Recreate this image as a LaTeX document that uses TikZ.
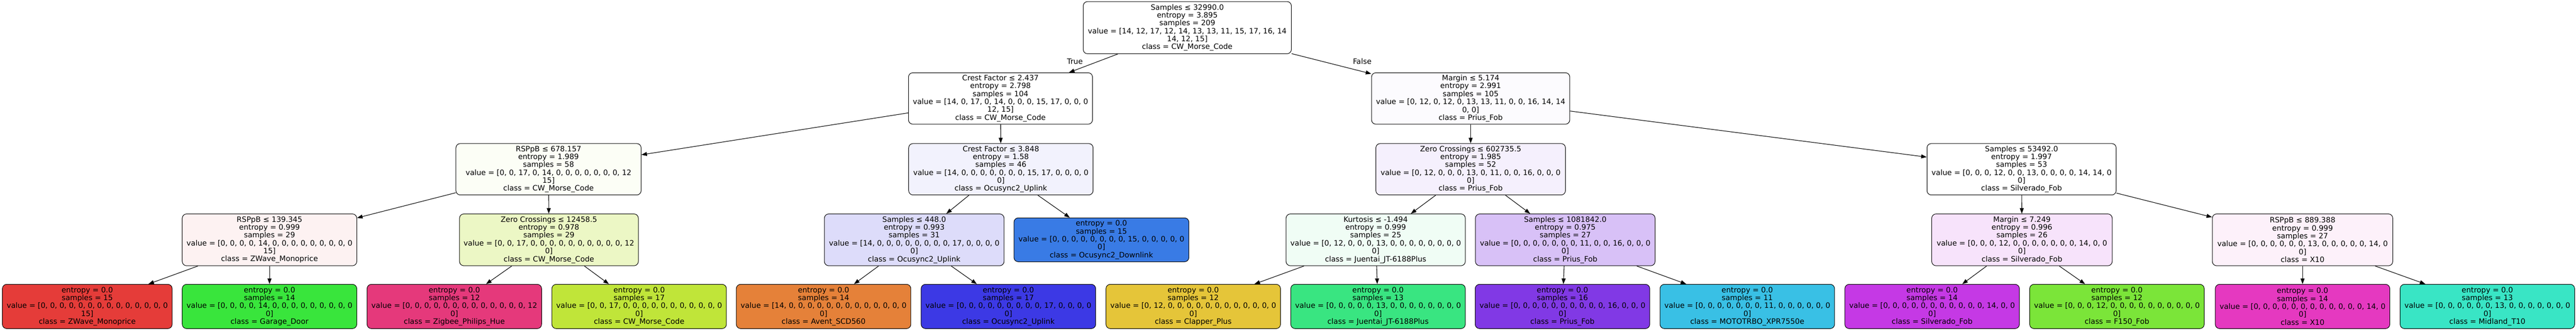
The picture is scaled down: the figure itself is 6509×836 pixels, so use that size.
\documentclass[tikz,border=0pt]{standalone}
\usepackage{fontspec}
\setmainfont{DejaVu Sans}
\usetikzlibrary{arrows.meta}
\newcommand\treefont{\fontsize{18.7}{20}\selectfont}
\definecolor{cMarginA}{HTML}{FCFBFE}
\definecolor{cRspA}{HTML}{FCFEF6}
\definecolor{cCrestB}{HTML}{F2F2FD}
\definecolor{cZeroA}{HTML}{F5F0FD}
\definecolor{cRspB}{HTML}{FDF2F2}
\definecolor{cZeroB}{HTML}{ECF7C5}
\definecolor{cSampB}{HTML}{DDDCFA}
\definecolor{cKurt}{HTML}{F0FDF5}
\definecolor{cSampC}{HTML}{D8C1F7}
\definecolor{cMarginB}{HTML}{F7E3FB}
\definecolor{cRspC}{HTML}{FDF1FA}
\definecolor{kAvent}{HTML}{E58139}
\definecolor{kClapper}{HTML}{E5C539}
\definecolor{kCW}{HTML}{C0E539}
\definecolor{kFord}{HTML}{7BE539}
\definecolor{kGarage}{HTML}{39E53C}
\definecolor{kJuentai}{HTML}{39E581}
\definecolor{kMidland}{HTML}{39E5C5}
\definecolor{kMoto}{HTML}{39C0E5}
\definecolor{kDown}{HTML}{397BE5}
\definecolor{kUp}{HTML}{3C39E5}
\definecolor{kPrius}{HTML}{8139E5}
\definecolor{kSilver}{HTML}{C539E5}
\definecolor{kXten}{HTML}{E539C0}
\definecolor{kZigbee}{HTML}{E5397B}
\definecolor{kZwave}{HTML}{E53C39}
\begin{document}
\begin{tikzpicture}[x=1pt,y=-1pt,
  box/.style={draw=black, line width=1.3pt, rounded corners=11pt, inner sep=0pt,
    align=center, font=\treefont, minimum height=130pt},
  leafbox/.style={box, minimum height=112pt, minimum width=441pt},
  conn/.style={draw=black, -{Triangle[length=14pt,width=10pt]}, line width=1.4pt},
  lbl/.style={font=\treefont}]
\useasboundingbox (0,0) rectangle (6509,836);
% level 0
\node[box, fill=white, minimum width=526pt, minimum height=132pt] (root) at (3000,70)
  {Samples ≤ 32990.0\\entropy = 3.895\\samples = 209\\value = [14, 12, 17, 12, 14, 13, 13, 11, 15, 17, 16, 14\\14, 12, 15]\\class = CW\_Morse\_Code};
% level 1
\node[box, fill=white, minimum width=465pt] (n1) at (2528,249)
  {Crest Factor ≤ 2.437\\entropy = 2.798\\samples = 104\\value = [14, 0, 17, 0, 14, 0, 0, 0, 15, 17, 0, 0, 0\\12, 15]\\class = CW\_Morse\_Code};
\node[box, fill=cMarginA, minimum width=501pt] (n2) at (3716,249)
  {Margin ≤ 5.174\\entropy = 2.991\\samples = 105\\value = [0, 12, 0, 12, 0, 13, 13, 11, 0, 0, 16, 14, 14\\0, 0]\\class = Prius\_Fob};
% level 2
\node[box, fill=cRspA, minimum width=468pt] (n3) at (1386,428)
  {RSPpB ≤ 678.157\\entropy = 1.989\\samples = 58\\value = [0, 0, 17, 0, 14, 0, 0, 0, 0, 0, 0, 0, 12\\15]\\class = CW\_Morse\_Code};
\node[box, fill=cCrestB, minimum width=466pt] (n4) at (2529,428)
  {Crest Factor ≤ 3.848\\entropy = 1.58\\samples = 46\\value = [14, 0, 0, 0, 0, 0, 0, 0, 15, 17, 0, 0, 0, 0\\0]\\class = Ocusync2\_Uplink};
\node[box, fill=cZeroA, minimum width=479pt] (n5) at (3716,428)
  {Zero Crossings ≤ 602735.5\\entropy = 1.985\\samples = 52\\value = [0, 12, 0, 0, 0, 13, 0, 11, 0, 0, 16, 0, 0, 0\\0]\\class = Prius\_Fob};
\node[box, fill=white, minimum width=478pt] (n6) at (5108,428)
  {Samples ≤ 53492.0\\entropy = 1.997\\samples = 53\\value = [0, 0, 0, 12, 0, 0, 13, 0, 0, 0, 0, 14, 14, 0\\0]\\class = Silverado\_Fob};
% level 3
\node[box, fill=cRspB, minimum width=441pt, minimum height=131pt] (n7) at (681,606.5)
  {RSPpB ≤ 139.345\\entropy = 0.999\\samples = 29\\value = [0, 0, 0, 0, 14, 0, 0, 0, 0, 0, 0, 0, 0, 0\\15]\\class = ZWave\_Monoprice};
\node[box, fill=cZeroB, minimum width=452pt, minimum height=131pt] (n8) at (1387,606.5)
  {Zero Crossings ≤ 12458.5\\entropy = 0.978\\samples = 29\\value = [0, 0, 17, 0, 0, 0, 0, 0, 0, 0, 0, 0, 0, 12\\0]\\class = CW\_Morse\_Code};
\node[box, fill=cSampB, minimum width=454pt, minimum height=131pt] (n9) at (2310,606.5)
  {Samples ≤ 448.0\\entropy = 0.993\\samples = 31\\value = [14, 0, 0, 0, 0, 0, 0, 0, 0, 17, 0, 0, 0, 0\\0]\\class = Ocusync2\_Uplink};
\node[leafbox, fill=kDown, minimum width=442pt, minimum height=111pt] (n10) at (2783,606.5)
  {entropy = 0.0\\samples = 15\\value = [0, 0, 0, 0, 0, 0, 0, 0, 15, 0, 0, 0, 0, 0\\0]\\class = Ocusync2\_Downlink};
\node[box, fill=cKurt, minimum width=453pt, minimum height=131pt] (n11) at (3476,606.5)
  {Kurtosis ≤ -1.494\\entropy = 0.999\\samples = 25\\value = [0, 12, 0, 0, 0, 13, 0, 0, 0, 0, 0, 0, 0, 0\\0]\\class = Juentai\_JT-6188Plus};
\node[box, fill=cSampC, minimum width=454pt, minimum height=131pt] (n12) at (3955,606.5)
  {Samples ≤ 1081842.0\\entropy = 0.975\\samples = 27\\value = [0, 0, 0, 0, 0, 0, 0, 11, 0, 0, 16, 0, 0, 0\\0]\\class = Prius\_Fob};
\node[box, fill=cMarginB, minimum width=456pt, minimum height=131pt] (n13) at (5109,606.5)
  {Margin ≤ 7.249\\entropy = 0.996\\samples = 26\\value = [0, 0, 0, 12, 0, 0, 0, 0, 0, 0, 0, 14, 0, 0\\0]\\class = Silverado\_Fob};
\node[box, fill=cRspC, minimum width=456pt, minimum height=131pt] (n14) at (5818,606.5)
  {RSPpB ≤ 889.388\\entropy = 0.999\\samples = 27\\value = [0, 0, 0, 0, 0, 0, 13, 0, 0, 0, 0, 0, 14, 0\\0]\\class = X10};
% level 4 leaves
\node[leafbox, fill=kZwave, minimum width=429pt] (l1) at (220.5,775)
  {entropy = 0.0\\samples = 15\\value = [0, 0, 0, 0, 0, 0, 0, 0, 0, 0, 0, 0, 0, 0\\15]\\class = ZWave\_Monoprice};
\node[leafbox, fill=kGarage] (l2) at (681,775)
  {entropy = 0.0\\samples = 14\\value = [0, 0, 0, 0, 14, 0, 0, 0, 0, 0, 0, 0, 0, 0\\0]\\class = Garage\_Door};
\node[leafbox, fill=kZigbee] (l3) at (1148,775)
  {entropy = 0.0\\samples = 12\\value = [0, 0, 0, 0, 0, 0, 0, 0, 0, 0, 0, 0, 0, 12\\0]\\class = Zigbee\_Philips\_Hue};
\node[leafbox, fill=kCW] (l4) at (1615,775)
  {entropy = 0.0\\samples = 17\\value = [0, 0, 17, 0, 0, 0, 0, 0, 0, 0, 0, 0, 0, 0\\0]\\class = CW\_Morse\_Code};
\node[leafbox, fill=kAvent] (l5) at (2081,775)
  {entropy = 0.0\\samples = 14\\value = [14, 0, 0, 0, 0, 0, 0, 0, 0, 0, 0, 0, 0, 0\\0]\\class = Avent\_SCD560};
\node[leafbox, fill=kUp] (l6) at (2548,775)
  {entropy = 0.0\\samples = 17\\value = [0, 0, 0, 0, 0, 0, 0, 0, 0, 17, 0, 0, 0, 0\\0]\\class = Ocusync2\_Uplink};
\node[leafbox, fill=kClapper] (l7) at (3015,775)
  {entropy = 0.0\\samples = 12\\value = [0, 12, 0, 0, 0, 0, 0, 0, 0, 0, 0, 0, 0, 0\\0]\\class = Clapper\_Plus};
\node[leafbox, fill=kJuentai] (l8) at (3482,775)
  {entropy = 0.0\\samples = 13\\value = [0, 0, 0, 0, 0, 13, 0, 0, 0, 0, 0, 0, 0, 0\\0]\\class = Juentai\_JT-6188Plus};
\node[leafbox, fill=kPrius] (l9) at (3948,775)
  {entropy = 0.0\\samples = 16\\value = [0, 0, 0, 0, 0, 0, 0, 0, 0, 0, 16, 0, 0, 0\\0]\\class = Prius\_Fob};
\node[leafbox, fill=kMoto] (l10) at (4415,775)
  {entropy = 0.0\\samples = 11\\value = [0, 0, 0, 0, 0, 0, 0, 11, 0, 0, 0, 0, 0, 0\\0]\\class = MOTOTRBO\_XPR7550e};
\node[leafbox, fill=kSilver] (l11) at (4882,775)
  {entropy = 0.0\\samples = 14\\value = [0, 0, 0, 0, 0, 0, 0, 0, 0, 0, 0, 14, 0, 0\\0]\\class = Silverado\_Fob};
\node[leafbox, fill=kFord] (l12) at (5349,775)
  {entropy = 0.0\\samples = 12\\value = [0, 0, 0, 12, 0, 0, 0, 0, 0, 0, 0, 0, 0, 0\\0]\\class = F150\_Fob};
\node[leafbox, fill=kXten] (l13) at (5818,775)
  {entropy = 0.0\\samples = 14\\value = [0, 0, 0, 0, 0, 0, 0, 0, 0, 0, 0, 0, 14, 0\\0]\\class = X10};
\node[leafbox, fill=kMidland] (l14) at (6285,775)
  {entropy = 0.0\\samples = 13\\value = [0, 0, 0, 0, 0, 0, 13, 0, 0, 0, 0, 0, 0, 0\\0]\\class = Midland\_T10};
% connectors
\draw[conn] (root) -- (n1);
\draw[conn] (root) -- (n2);
\draw[conn] (n1) -- (n3);
\draw[conn] (n1) -- (n4);
\draw[conn] (n2) -- (n5);
\draw[conn] (n2) -- (n6);
\draw[conn] (n3) -- (n7);
\draw[conn] (n3) -- (n8);
\draw[conn] (n4) -- (n9);
\draw[conn] (n4) -- (n10);
\draw[conn] (n5) -- (n11);
\draw[conn] (n5) -- (n12);
\draw[conn] (n6) -- (n13);
\draw[conn] (n6) -- (n14);
\draw[conn] (n7) -- (l1);
\draw[conn] (n7) -- (l2);
\draw[conn] (n8) -- (l3);
\draw[conn] (n8) -- (l4);
\draw[conn] (n9) -- (l5);
\draw[conn] (n9) -- (l6);
\draw[conn] (n11) -- (l7);
\draw[conn] (n11) -- (l8);
\draw[conn] (n12) -- (l9);
\draw[conn] (n12) -- (l10);
\draw[conn] (n13) -- (l11);
\draw[conn] (n13) -- (l12);
\draw[conn] (n14) -- (l13);
\draw[conn] (n14) -- (l14);
% edge labels
\node[lbl] (tlabel) at (2716,155) {True};
\node[lbl] (flabel) at (3442,155) {False};
\end{tikzpicture}
\end{document}
